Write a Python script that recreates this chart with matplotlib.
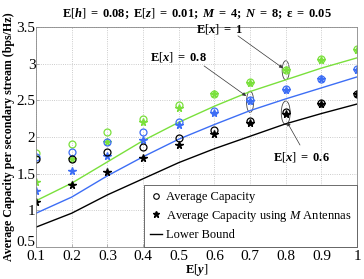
import numpy as np
import matplotlib
matplotlib.use("Agg")
import matplotlib.pyplot as plt
import matplotlib.transforms as mtransforms
from matplotlib.patches import Ellipse

plt.rcParams['font.family'] = ['Liberation Serif', 'DejaVu Serif']
plt.rcParams['mathtext.fontset'] = 'custom'
plt.rcParams['mathtext.rm'] = 'Liberation Serif'
plt.rcParams['mathtext.it'] = 'Liberation Serif:italic'
plt.rcParams['mathtext.bf'] = 'Liberation Serif:bold'
plt.rcParams['mathtext.bfit'] = 'Liberation Serif:bold:italic'

# E[y] values
ey = [0.1, 0.2, 0.3, 0.4, 0.5, 0.6, 0.7, 0.8, 0.9, 1.0]

# average capacity (circles)
cap_x1 = [1.78, 1.90, 2.07, 2.25, 2.43, 2.59, 2.75, 2.92, 3.06, 3.20]
cap_x08 = [1.73, 1.80, 1.93, 2.07, 2.21, 2.35, 2.50, 2.65, 2.79, 2.93]
cap_x06 = [1.70, 1.70, 1.79, 1.86, 1.99, 2.10, 2.22, 2.34, 2.47, 2.59]

# average capacity using M antennas (stars)
capm_x1 = [1.39, 1.70, 1.93, 2.20, 2.39, 2.58, 2.74, 2.91, 3.05, 3.19]
capm_x08 = [1.26, 1.54, 1.74, 1.96, 2.16, 2.33, 2.49, 2.64, 2.79, 2.92]
capm_x06 = [1.11, 1.35, 1.52, 1.71, 1.89, 2.04, 2.19, 2.31, 2.45, 2.58]

# lower bound
lb_x1 = [1.13, 1.37, 1.66, 1.95, 2.20, 2.42, 2.62, 2.78, 2.94, 3.08]
lb_x08 = [0.96, 1.18, 1.47, 1.73, 1.97, 2.17, 2.36, 2.52, 2.67, 2.82]
lb_x06 = [0.77, 0.96, 1.21, 1.43, 1.65, 1.84, 2.01, 2.18, 2.32, 2.45]

green = '#7ae03c'
blue = '#3d6ef5'
black = 'black'

fig = plt.figure(figsize=(3.64, 2.79), dpi=100)
ax = fig.add_axes([0.099, 0.115, 0.882, 0.788])

series = [(cap_x1, capm_x1, lb_x1, green),
          (cap_x08, capm_x08, lb_x08, blue),
          (cap_x06, capm_x06, lb_x06, black)]
for cap, capm, lb, c in series:
    ax.plot(ey, lb, '-', color=c, lw=1.0)
    ax.plot(ey, cap, 'o', mfc='none', mec=c, ms=5, mew=0.9, ls='none')
    ax.plot(ey, capm, '*', color=c, ms=5.5, ls='none')

# legend handles
h1, = ax.plot([], [], 'o', mfc='none', mec='black', ms=4, mew=0.8, ls='none')
h2, = ax.plot([], [], '*', color='black', ms=5, ls='none')
h3, = ax.plot([], [], '-', color='black', lw=1.0)
leg = ax.legend([h1, h2, h3],
                ['Average Capacity', r'Average Capacity using $\mathit{M}$ Antennas', 'Lower Bound'],
                loc='lower right', fontsize=9, fancybox=False, framealpha=1,
                borderaxespad=0, handlelength=1.0, handletextpad=0.3,
                borderpad=0.45, labelspacing=0.45)
leg.get_frame().set_edgecolor('#555555')
leg.get_frame().set_linewidth(0.6)

# ellipses and annotations
for (xc, yc, w, h) in [(0.8, 2.91, 0.02, 0.26), (0.7, 2.48, 0.02, 0.29), (0.8, 2.33, 0.025, 0.32)]:
    ax.add_patch(Ellipse((xc, yc), w, h, fill=False, ec='#444444', lw=0.6))

arrow = dict(arrowstyle='-|>', color='#333333', lw=0.5, mutation_scale=5, shrinkA=0, shrinkB=0)
ax.text(0.616, 3.47, r'$\mathbf{E}[\mathbfit{x}]\ \mathbf{=}\ \mathbf{1}$', ha='center', va='center', fontsize=9)
ax.annotate('', xy=(0.792, 2.94), xytext=(0.666, 3.38), arrowprops=arrow)
ax.text(0.498, 3.09, r'$\mathbf{E}[\mathbfit{x}]\ \mathbf{=}\ \mathbf{0.8}$', ha='center', va='center', fontsize=9)
ax.annotate('', xy=(0.689, 2.56), xytext=(0.571, 2.97), arrowprops=arrow)
ax.text(0.843, 1.73, r'$\mathbf{E}[\mathbfit{x}]\ \mathbf{=}\ \mathbf{0.6}$', ha='center', va='center', fontsize=9)
ax.annotate('', xy=(0.804, 2.20), xytext=(0.84, 1.89), arrowprops=arrow)

ax.set_xlim(0.1, 1.0)
ax.set_ylim(0.5, 3.5)
ax.set_xticks(ey)
ax.set_xticklabels(['0.1', '0.2', '0.3', '0.4', '0.5', '0.6', '0.7', '0.8', '0.9', '1'])
ax.set_yticks([0.5, 1, 1.5, 2, 2.5, 3, 3.5])
ax.set_yticklabels(['0.5', '1', '1.5', '2', '2.5', '3', '3.5'])
ax.tick_params(direction='in', labelsize=11, length=2, width=0.5, color='#999999')
ax.tick_params(axis='x', pad=2.5)
ax.tick_params(axis='y', pad=0.5)
# lift the bottom y label a little so it does not collide with "0.1"
lbl = ax.get_yticklabels()[0]
lbl.set_transform(lbl.get_transform() + mtransforms.ScaledTranslation(0, 4 / 72, fig.dpi_scale_trans))
ax.grid(True, ls=':', color='#bbbbbb', lw=0.6)
for s in ax.spines.values():
    s.set_color('#888888')
    s.set_linewidth(0.6)

ax.set_xlabel(r'$\mathbf{E}[\mathbfit{y}]$', fontsize=9, labelpad=-1)
ax.set_ylabel('Average Capacity per secondary stream (bps/Hz)', fontsize=8.6, fontweight='bold', labelpad=1)
ax.set_title(r'$\mathbf{E}[\mathbfit{h}]\ \mathbf{=\ 0.08;\ E}[\mathbfit{z}]\ \mathbf{=\ 0.01;}\ \mathbfit{M}\ \mathbf{=\ 4;}\ \mathbfit{N}\ \mathbf{=\ 8;\ \varepsilon\ =\ 0.05}$',
             fontsize=9, pad=7)

fig.savefig('out.png', dpi=100)
